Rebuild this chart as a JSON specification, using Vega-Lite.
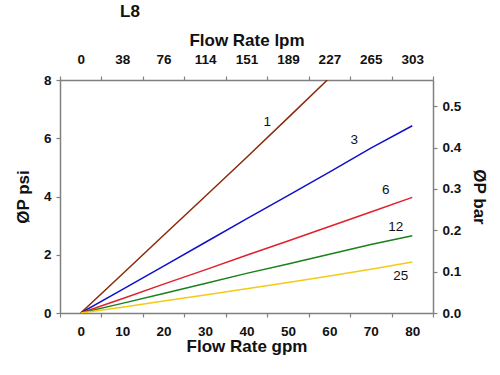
{
  "$schema": "https://vega.github.io/schema/vega-lite/v6.json",
  "width": 373,
  "height": 233,
  "autosize": {"type": "none"},
  "padding": {"left": 60, "top": 80, "right": 67, "bottom": 62},
  "background": "white",
  "title": {"text": "L8", "anchor": "start", "frame": "group", "dx": 60, "offset": 10, "font": "Liberation Sans", "fontSize": 17, "fontWeight": "bold", "color": "#111111"},
  "config": {
    "view": {"stroke": null},
    "axis": {
      "domainColor": "#808080", "domainWidth": 1.5, "tickColor": "#808080", "tickWidth": 1.2, "tickSize": 4,
      "labelFont": "Liberation Sans", "labelFontSize": 13.5, "labelFontWeight": "bold", "labelColor": "#111111",
      "titleFont": "Liberation Sans", "titleFontSize": 17, "titleFontWeight": "bold", "titleColor": "#111111",
      "grid": false
    }
  },
  "datasets": {
    "lines": [
      {"series": "1", "gpm": 0, "psi": 0}, {"series": "1", "gpm": 10, "psi": 1.33}, {"series": "1", "gpm": 20, "psi": 2.67}, {"series": "1", "gpm": 30, "psi": 4.0}, {"series": "1", "gpm": 40, "psi": 5.34}, {"series": "1", "gpm": 50, "psi": 6.7}, {"series": "1", "gpm": 59.5, "psi": 8.0},
      {"series": "3", "gpm": 0, "psi": 0}, {"series": "3", "gpm": 10, "psi": 0.8}, {"series": "3", "gpm": 20, "psi": 1.61}, {"series": "3", "gpm": 30, "psi": 2.42}, {"series": "3", "gpm": 40, "psi": 3.23}, {"series": "3", "gpm": 50, "psi": 4.03}, {"series": "3", "gpm": 60, "psi": 4.84}, {"series": "3", "gpm": 70, "psi": 5.66}, {"series": "3", "gpm": 80, "psi": 6.43},
      {"series": "6", "gpm": 0, "psi": 0}, {"series": "6", "gpm": 10, "psi": 0.49}, {"series": "6", "gpm": 20, "psi": 0.99}, {"series": "6", "gpm": 30, "psi": 1.48}, {"series": "6", "gpm": 40, "psi": 1.98}, {"series": "6", "gpm": 50, "psi": 2.47}, {"series": "6", "gpm": 60, "psi": 2.97}, {"series": "6", "gpm": 70, "psi": 3.47}, {"series": "6", "gpm": 80, "psi": 3.97},
      {"series": "12", "gpm": 0, "psi": 0}, {"series": "12", "gpm": 10, "psi": 0.33}, {"series": "12", "gpm": 20, "psi": 0.67}, {"series": "12", "gpm": 30, "psi": 1.01}, {"series": "12", "gpm": 40, "psi": 1.36}, {"series": "12", "gpm": 50, "psi": 1.68}, {"series": "12", "gpm": 60, "psi": 2.02}, {"series": "12", "gpm": 70, "psi": 2.35}, {"series": "12", "gpm": 80, "psi": 2.65},
      {"series": "25", "gpm": 0, "psi": 0}, {"series": "25", "gpm": 10, "psi": 0.2}, {"series": "25", "gpm": 20, "psi": 0.41}, {"series": "25", "gpm": 30, "psi": 0.62}, {"series": "25", "gpm": 40, "psi": 0.83}, {"series": "25", "gpm": 50, "psi": 1.05}, {"series": "25", "gpm": 60, "psi": 1.27}, {"series": "25", "gpm": 70, "psi": 1.5}, {"series": "25", "gpm": 80, "psi": 1.75}
    ],
    "labels": [
      {"label": "1", "gpm": 45, "psi": 6.56},
      {"label": "3", "gpm": 66, "psi": 5.94},
      {"label": "6", "gpm": 73.6, "psi": 4.24},
      {"label": "12", "gpm": 76, "psi": 2.96},
      {"label": "25", "gpm": 77.2, "psi": 1.26}
    ]
  },
  "layer": [
    {
      "data": {"name": "lines"},
      "mark": {"type": "line", "strokeWidth": 1.5, "clip": true},
      "encoding": {
        "x": {"field": "gpm", "type": "quantitative", "scale": {"domain": [-5, 85], "nice": false, "zero": false},
          "axis": {"orient": "bottom", "title": "Flow Rate gpm", "values": [-5, 0, 5, 10, 15, 20, 25, 30, 35, 40, 45, 50, 55, 60, 65, 70, 75, 80, 85],
            "labelExpr": "datum.value % 10 === 0 ? datum.label : ''",
            "tickOpacity": {"condition": {"test": "datum.value % 10 === 0", "value": 0}, "value": 1},
            "labelPadding": 7, "titlePadding": 1, "labelFlush": false, "labelOverlap": false}},
        "y": {"field": "psi", "type": "quantitative", "scale": {"domain": [0, 8], "nice": false},
          "axis": {"orient": "left", "title": "ØP psi", "values": [0, 2, 4, 6, 8], "labelPadding": 5, "titlePadding": 11, "labelFlush": false}},
        "color": {"field": "series", "type": "nominal", "scale": {"domain": ["1", "3", "6", "12", "25"], "range": ["#8B2A0A", "#1010C8", "#E0202A", "#1A801A", "#F2CB16"]}, "legend": null}
      }
    },
    {
      "data": {"name": "labels"},
      "mark": {"type": "text", "font": "Liberation Sans", "fontSize": 13.5, "color": "#111111"},
      "encoding": {
        "x": {"field": "gpm", "type": "quantitative", "scale": {"domain": [-5, 85], "nice": false, "zero": false},
          "axis": {"orient": "top", "title": "Flow Rate lpm", "values": [-5, 0, 5, 10, 15, 20, 25, 30, 35, 40, 45, 50, 55, 60, 65, 70, 75, 80, 85],
            "labelExpr": "datum.value % 10 === 0 ? '' + round(datum.value * 3.785) : ''",
            "tickOpacity": {"condition": {"test": "datum.value % 10 === 0", "value": 0}, "value": 1},
            "labelPadding": 10, "titlePadding": 3, "labelFlush": false, "labelOverlap": false}},
        "y": {"field": "psi", "type": "quantitative", "scale": {"domain": [0, 8], "nice": false},
          "axis": {"orient": "right", "title": "ØP bar", "values": [0, 1.42, 2.84, 4.26, 5.68, 7.1],
            "labelExpr": "format(datum.value / 14.2, '.1f')", "labelPadding": 5, "titlePadding": 9, "labelFlush": false}},
        "text": {"field": "label", "type": "nominal"}
      }
    }
  ],
  "resolve": {"axis": {"x": "independent", "y": "independent"}}
}
